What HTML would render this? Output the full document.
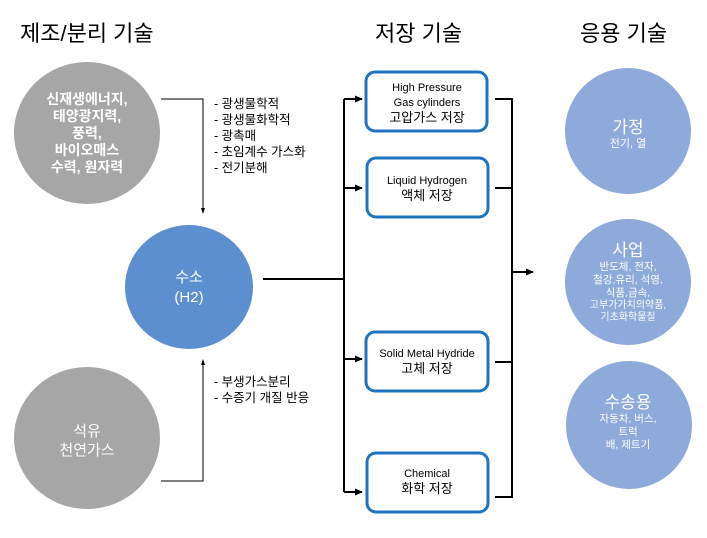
<!DOCTYPE html>
<html><head><meta charset="utf-8"><style>
html,body{margin:0;padding:0;background:#fff;}
svg text{font-family:"Liberation Sans","Noto Sans CJK KR",sans-serif;}
</style></head><body>
<svg width="707" height="533" viewBox="0 0 707 533" xmlns="http://www.w3.org/2000/svg">
<defs>
<marker id="a" markerWidth="8" markerHeight="8" refX="7" refY="4" orient="auto" markerUnits="userSpaceOnUse"><path d="M0,0.5 L8,4 L0,7.5 Z" fill="#000"/></marker>
<marker id="s" markerWidth="6" markerHeight="6" refX="5" refY="3" orient="auto" markerUnits="userSpaceOnUse"><path d="M0,1 L6,3 L0,5 Z" fill="#000"/></marker>
</defs>
<g font-size="22" fill="#000">
<text x="20" y="41">제조/분리 기술</text>
<text x="375" y="41">저장 기술</text>
<text x="580" y="41">응용 기술</text>
</g>
<!-- gray circles -->
<ellipse cx="87" cy="133" rx="73" ry="71" fill="#a6a6a6"/>
<g fill="#fff" font-size="14" font-weight="bold" text-anchor="middle">
<text x="87" y="104">신재생에너지,</text>
<text x="87" y="121">태양광지력,</text>
<text x="87" y="138">풍력,</text>
<text x="87" y="155">바이오매스</text>
<text x="87" y="172">수력, 원자력</text>
</g>
<ellipse cx="87" cy="438" rx="73" ry="71" fill="#a6a6a6"/>
<g fill="#fff" font-size="15" text-anchor="middle">
<text x="87" y="436">석유</text>
<text x="87" y="455">천연가스</text>
</g>
<!-- left connectors -->
<path d="M161,99 H203 V213" fill="none" stroke="#000" stroke-width="1" marker-end="url(#s)"/>
<path d="M161,481 H203 V360" fill="none" stroke="#000" stroke-width="1" marker-end="url(#s)"/>
<g font-size="12.5" fill="#000">
<text x="214" y="108">-   광생물학적</text>
<text x="214" y="124">-   광생물화학적</text>
<text x="214" y="140">-   광촉매</text>
<text x="214" y="156">-   초임계수 가스화</text>
<text x="214" y="172">-   전기분해</text>
<text x="214" y="386">-   부생가스분리</text>
<text x="214" y="402">-   수증기 개질 반응</text>
</g>
<!-- hydrogen -->
<ellipse cx="189" cy="287" rx="64" ry="62" fill="#5b8fd0"/>
<g fill="#fff" font-size="15" text-anchor="middle">
<text x="189" y="282">수소</text>
<text x="189" y="302">(H2)</text>
</g>
<path d="M263,279 H344" stroke="#000" stroke-width="2"/>
<path d="M344,99 V492" stroke="#000" stroke-width="2" fill="none"/>
<g stroke="#000" stroke-width="2" marker-end="url(#a)">
<line x1="344" y1="99" x2="362" y2="99"/>
<line x1="344" y1="188" x2="362" y2="188"/>
<line x1="344" y1="359" x2="362" y2="359"/>
<line x1="344" y1="492" x2="362" y2="492"/>
</g>
<!-- boxes -->
<g fill="#fff" stroke="#1f74c2" stroke-width="3">
<rect x="366" y="72" width="121" height="59" rx="9"/>
<rect x="367" y="158" width="121" height="59" rx="9"/>
<rect x="366" y="332" width="122" height="59" rx="9"/>
<rect x="367" y="453" width="121" height="59" rx="9"/>
</g>
<g font-size="11" fill="#000" text-anchor="middle">
<text x="427" y="91">High Pressure</text>
<text x="427" y="106">Gas cylinders</text>
<text x="427" y="122" font-size="13">고압가스 저장</text>
<text x="427" y="184">Liquid Hydrogen</text>
<text x="427" y="200" font-size="13">액체 저장</text>
<text x="427" y="357">Solid Metal Hydride</text>
<text x="427" y="373" font-size="13">고체 저장</text>
<text x="427" y="477">Chemical</text>
<text x="427" y="493" font-size="13">화학 저장</text>
</g>
<path d="M495,99 H512 V497 H495 M495,188 H512 M495,362 H512" fill="none" stroke="#000" stroke-width="2"/>
<line x1="512" y1="272" x2="533" y2="272" stroke="#000" stroke-width="2" marker-end="url(#a)"/>
<!-- right circles -->
<g fill="#8eaadb">
<ellipse cx="628" cy="131" rx="63" ry="63"/>
<ellipse cx="628" cy="282" rx="63" ry="63"/>
<ellipse cx="629" cy="425" rx="63" ry="64"/>
</g>
<g fill="#fff" text-anchor="middle">
<text x="628" y="133" font-size="17">가정</text>
<text x="628" y="147" font-size="11">전기, 열</text>
<text x="628" y="256" font-size="17">사업</text>
<text x="628" y="270" font-size="10.5">반도체, 전자,</text>
<text x="628" y="283" font-size="10.5">철강,유리, 석영,</text>
<text x="628" y="296" font-size="10.5">식품,금속,</text>
<text x="628" y="308" font-size="10">고부가가치의약품,</text>
<text x="628" y="320" font-size="10">기초화학물질</text>
<text x="628" y="408" font-size="17">수송용</text>
<text x="628" y="422" font-size="10.5">자동차, 버스,</text>
<text x="628" y="435" font-size="10.5">트럭</text>
<text x="628" y="448" font-size="10.5">배, 제트기</text>
</g>
</svg>
</body></html>
